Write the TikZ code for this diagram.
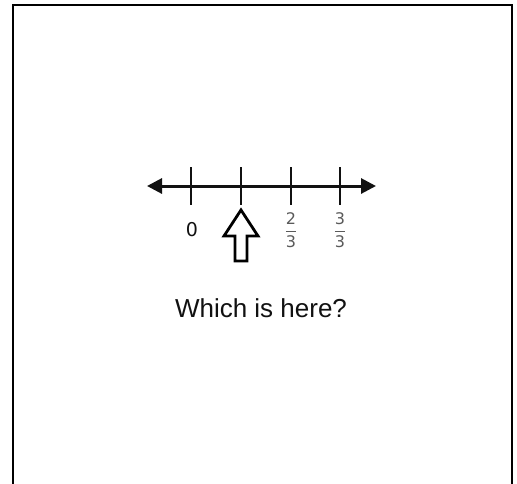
\documentclass[tikz,border=0pt]{standalone}
\usepackage{fontspec}
\setmainfont{Liberation Sans}
\newfontfamily\digitfont{DejaVu Sans}
\usetikzlibrary{arrows.meta}
\definecolor{ink}{HTML}{111111}
\definecolor{fracgray}{HTML}{5A5A5A}
\newcommand{\sansfrac}[2]{$\displaystyle{\mbox{#1}\above1pt\mbox{#2}}$}
\tikzset{
  frame/.style={draw=black,line width=2.8pt},
  axis/.style={{Triangle[length=15pt,width=15pt]}-{Triangle[length=15pt,width=15pt]},line width=3pt,color=ink},
  tick/.style={line width=2.4pt,color=ink},
  fraclabel/.style={font=\digitfont\fontsize{16}{17}\selectfont,text=fracgray,inner sep=0pt},
  zerolabel/.style={font=\digitfont\fontsize{19}{20}\selectfont,text=ink,inner sep=0pt},
  pointer/.style={draw=black,fill=white,line width=2.8pt,line join=miter},
}
\begin{document}
\begin{tikzpicture}[x=1pt,y=-1pt]
  \useasboundingbox (0,0) rectangle (517,483);
  \draw[frame] (13,484) -- (13,5) -- (512,5) -- (512,484);

  % number line
  \coordinate (left) at (147,186);
  \coordinate (right) at (376,186);
  \draw[axis] (left) -- (right);
  \foreach \x [count=\i from 0] in {191,241,291,340}
    \draw[tick] (\x,167) coordinate (t\i) -- (\x,205) coordinate (b\i);

  \node[zerolabel] (zero) at (192,230) {0};
  \node[fraclabel] (twothirds) at (291,230) {\sansfrac{2}{3}};
  \node[fraclabel] (threethirds) at (340,230) {\sansfrac{3}{3}};

  % hollow pointer under the unlabelled tick
  \draw[pointer] (241,210) -- (258,236) -- (247,236) -- (247,261)
    -- (235,261) -- (235,236) -- (224,236) -- cycle;

  \node[font=\fontsize{26}{28}\selectfont,text=ink] (question) at (261,308) {Which is here?};
\end{tikzpicture}
\end{document}
